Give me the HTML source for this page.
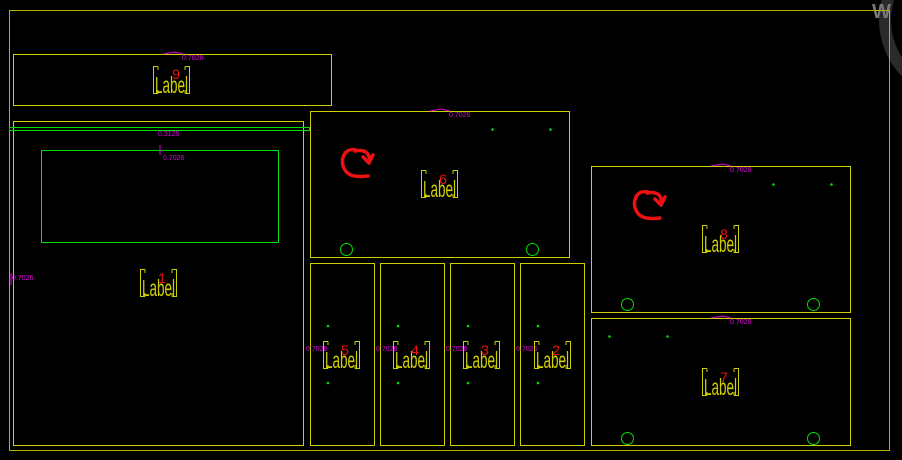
<!DOCTYPE html>
<html><head><style>html,body{margin:0;padding:0;background:#000;width:902px;height:460px;overflow:hidden}</style></head>
<body>
<svg width="902" height="460" xmlns="http://www.w3.org/2000/svg" font-family="Liberation Sans, sans-serif">
<rect width="902" height="460" fill="#000"/>
<circle cx="960" cy="20" r="75" fill="none" stroke="#2a2a2a" stroke-width="12"/>
<text x="872" y="18" font-size="20" font-weight="bold" fill="#777">W</text>
<g fill="none" stroke-width="1">
<rect x="9.5" y="10.5" width="880" height="440" stroke="#b8b000"/>
<g stroke="#d0d000">
<rect x="13.5" y="54.5" width="318" height="51"/>
<rect x="13.5" y="121.5" width="290" height="324"/>
<rect x="310.5" y="111.5" width="259" height="146"/>
<rect x="310.5" y="263.5" width="64" height="182"/>
<rect x="380.5" y="263.5" width="64" height="182"/>
<rect x="450.5" y="263.5" width="64" height="182"/>
<rect x="520.5" y="263.5" width="64" height="182"/>
<rect x="591.5" y="166.5" width="259" height="146"/>
<rect x="591.5" y="318.5" width="259" height="127"/>
</g>
<g stroke="#00e000">
<rect x="9.5" y="127.5" width="300" height="3"/>
<rect x="41.5" y="150.5" width="237" height="92"/>
<circle cx="346.5" cy="249.5" r="6"/><circle cx="532.5" cy="249.5" r="6"/>
<circle cx="627.5" cy="304.5" r="6"/><circle cx="813.5" cy="304.5" r="6"/>
<circle cx="627.5" cy="438.5" r="6"/><circle cx="813.5" cy="438.5" r="6"/>
</g>
</g>
<g fill="#00e000">
<circle cx="492.5" cy="129.5" r="1.3"/><circle cx="550.5" cy="129.5" r="1.3"/>
<circle cx="773.5" cy="184.5" r="1.3"/><circle cx="831.5" cy="184.5" r="1.3"/>
<circle cx="609.5" cy="336.5" r="1.3"/><circle cx="667.5" cy="336.5" r="1.3"/>
<circle cx="328" cy="326" r="1.3"/><circle cx="328" cy="383" r="1.3"/>
<circle cx="398" cy="326" r="1.3"/><circle cx="398" cy="383" r="1.3"/>
<circle cx="468" cy="326" r="1.3"/><circle cx="468" cy="383" r="1.3"/>
<circle cx="538" cy="326" r="1.3"/><circle cx="538" cy="383" r="1.3"/>
</g>
<g fill="none" stroke="#ee1111" stroke-width="3.5" stroke-linecap="round" stroke-linejoin="round">
<path d="M356,150 C344,147 339,161 345,170 C349,177 360,177 368,176"/>
<path d="M355,151 C364,149 371,153 369,162"/>
<path d="M363,157 L369,163 L373,155"/>
<path d="M648,192 C636,189 631,203 637,212 C641,219 652,219 660,218"/>
<path d="M647,193 C656,191 663,195 661,204"/>
<path d="M655,199 L661,205 L665,197"/>
</g>
<g font-size="7" fill="#e000e0">
<text x="182" y="60">0.7026</text><path d="M163,54 L175,52 L183,54" stroke="#e000e0" fill="none"/>
<text x="158" y="136">0.3125</text>
<text x="163" y="160">0.7026</text><path d="M160,145 V155" stroke="#e000e0"/>
<text x="12" y="280">0.7026</text><path d="M11,273 V285" stroke="#e000e0"/>
<text x="449" y="117">0.7026</text><path d="M430,111 L442,109 L450,111" stroke="#e000e0" fill="none"/>
<text x="730" y="172">0.7026</text><path d="M711,166 L723,164 L731,166" stroke="#e000e0" fill="none"/>
<text x="730" y="324">0.7026</text><path d="M711,318 L723,316 L731,318" stroke="#e000e0" fill="none"/>
<text x="306" y="351">0.7026</text><text x="376" y="351">0.7026</text>
<text x="446" y="351">0.7026</text><text x="516" y="351">0.7026</text>
</g>
<defs>
<g id="lb">
<path d="M5,0.5 H0.5 V27.5 H5 M32,0.5 H36.5 V27.5 H32 M5,0.5 V4 M32,0.5 V4 M5,27.5 V24 M32,27.5 V24" fill="none" stroke="#d0d000"/>
<text x="18.5" y="27" font-size="23" fill="#d0d000" text-anchor="middle" textLength="33" lengthAdjust="spacingAndGlyphs">Label</text>
</g>
</defs>
<use href="#lb" x="153" y="66"/>
<use href="#lb" x="140" y="269"/>
<use href="#lb" x="421" y="170"/>
<use href="#lb" x="702" y="225"/>
<use href="#lb" x="702" y="368"/>
<use href="#lb" x="323" y="341"/>
<use href="#lb" x="393" y="341"/>
<use href="#lb" x="463" y="341"/>
<use href="#lb" x="534" y="341"/>
<g font-size="14" fill="#f01010" text-anchor="middle">
<text x="176" y="79">9</text>
<text x="162" y="283">1</text>
<text x="443" y="184">6</text>
<text x="724" y="239">8</text>
<text x="724" y="382">7</text>
<text x="345" y="355">5</text>
<text x="415" y="355">4</text>
<text x="485" y="355">3</text>
<text x="556" y="355">2</text>
</g>
</svg>
</body></html>
